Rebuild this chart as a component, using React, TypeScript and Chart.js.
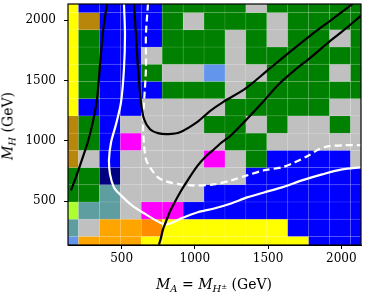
import React, { useEffect, useRef } from "react";
import { Chart, registerables } from "chart.js";
Chart.register(...registerables);

// Grid points (GeV): M_A = M_H± on x, M_H on y
const xGrid = [134, 276.9, 419.7, 562.6, 705.4, 848.3, 991.1, 1134, 1276.9, 1419.7, 1562.6, 1705.4, 1848.3, 1991.1, 2134];
const yGrid = [135, 277.9, 420.7, 563.6, 706.4, 849.3, 992.1, 1135, 1277.9, 1420.7, 1563.6, 1706.4, 1849.3, 1992.1, 2135];

// Cell classes, one string per M_H row (bottom row first), one letter per M_A column
const cellRows = [
  "COOOYYYYYYYYBBB",
  "TSOODYYYYYYBBBB",
  "LTTSMMBBBBBBBBB",
  "GGTSSSSBBBBBBBB",
  "GGNSSSSSSBBBBBB",
  "RSBSSSSMSGBBBBS",
  "RGBMSSSSGGSSSSS",
  "RGBSSSSGGSGSSGS",
  "YBBBSSSSGGGGGSS",
  "YGBBBGGGSGGGGGG",
  "YGBBGSSCSSGGGSG",
  "YGBBSGGGSGGGGGG",
  "YGBBBGGGSGSGGSG",
  "YRBBBGSGGGSGGGG",
  "YBBBBGGGGSGGGGG",
];

const palette: Record<string, string> = {
  Y: "#ffff00",
  B: "#0000ff",
  G: "#008000",
  S: "#c0c0c0",
  M: "#ff00ff",
  O: "#ffa500",
  D: "#ff8c00",
  N: "#000080",
  T: "#5f9ea0",
  L: "#adff2f",
  C: "#6495ed",
  R: "#b8860b",
};

const xTicks = [500, 1000, 1500, 2000];
const yTicks = [500, 1000, 1500, 2000];

// Contour lines (GeV)
const blackLeftX = [154, 188, 230, 271, 305, 332, 352, 373, 400];
const blackLeftY = [588, 696, 846, 996, 1163, 1346, 1621, 1905, 2138];

const blackUX = [584, 598, 612, 632, 653, 694, 748, 817, 898, 1015, 1103, 1192, 1342, 1492, 1649, 1786, 1943, 2079];
const blackUY = [2138, 1880, 1596, 1321, 1180, 1096, 1063, 1055, 1071, 1155, 1246, 1321, 1430, 1580, 1738, 1871, 2013, 2138];

const blackLowX = [755, 769, 782, 803, 830, 858, 899, 946, 1015, 1076, 1131, 1185, 1247, 1342, 1458, 1574, 1683, 1779, 1916, 2004, 2134];
const blackLowY = [138, 196, 263, 330, 413, 480, 571, 663, 788, 871, 930, 988, 1046, 1163, 1313, 1471, 1588, 1680, 1821, 1905, 2038];

const whiteX = [516, 523, 516, 496, 462, 428, 414, 421, 448, 489, 571, 666, 748, 803, 864, 905, 1015, 1131, 1247, 1356, 1472, 1595, 1731, 1868, 2004, 2134];
const whiteY = [2138, 1880, 1596, 1321, 1138, 988, 846, 721, 613, 555, 463, 388, 330, 305, 330, 355, 405, 438, 480, 530, 571, 613, 671, 721, 763, 780];

const dashX = [680, 666, 666, 653, 646, 653, 666, 694, 748, 803, 898, 980, 1131, 1247, 1356, 1472, 1595, 1683, 1779, 1847, 1916, 2025, 2134];
const dashY = [2138, 1880, 1596, 1321, 1138, 971, 846, 780, 696, 663, 638, 630, 638, 671, 713, 755, 780, 821, 880, 930, 955, 963, 963];

const pts = (xs: number[], ys: number[]) => xs.map((x, i) => ({ x, y: ys[i] }));

const edges = (g: number[], i: number) => {
  const step = g[1] - g[0];
  const lo = i > 0 ? (g[i - 1] + g[i]) / 2 : g[i] - step / 2;
  const hi = i < g.length - 1 ? (g[i] + g[i + 1]) / 2 : g[i] + step / 2;
  return [lo, hi];
};

const heatmapPlugin = {
  id: "heatmap",
  beforeDatasetsDraw(chart: any) {
    const { ctx, chartArea, scales } = chart;
    const xs = scales.x;
    const ys = scales.y;
    ctx.save();
    ctx.beginPath();
    ctx.rect(chartArea.left, chartArea.top, chartArea.right - chartArea.left, chartArea.bottom - chartArea.top);
    ctx.clip();
    cellRows.forEach((row, j) => {
      const [y0, y1] = edges(yGrid, j);
      const py0 = ys.getPixelForValue(y0);
      const py1 = ys.getPixelForValue(y1);
      row.split("").forEach((c, i) => {
        const [x0, x1] = edges(xGrid, i);
        const px0 = xs.getPixelForValue(x0);
        const px1 = xs.getPixelForValue(x1);
        ctx.fillStyle = palette[c];
        ctx.fillRect(px0, py1, px1 - px0, py0 - py1);
      });
    });
    ctx.strokeStyle = "rgba(255,255,255,0.08)";
    ctx.lineWidth = 0.8;
    cellRows.forEach((row, j) => {
      const [y0, y1] = edges(yGrid, j);
      const py0 = ys.getPixelForValue(y0);
      const py1 = ys.getPixelForValue(y1);
      row.split("").forEach((c, i) => {
        const [x0, x1] = edges(xGrid, i);
        const px0 = xs.getPixelForValue(x0);
        const px1 = xs.getPixelForValue(x1);
        ctx.strokeRect(px0, py1, px1 - px0, py0 - py1);
      });
    });
    ctx.restore();
  },
  afterDraw(chart: any) {
    const { ctx, chartArea } = chart;
    ctx.save();
    ctx.strokeStyle = "#000";
    ctx.lineWidth = 1.2;
    ctx.strokeRect(chartArea.left, chartArea.top, chartArea.right - chartArea.left, chartArea.bottom - chartArea.top);
    ctx.restore();
  },
};

const lineDs = (label: string, data: any[], color: string, dash: number[] = []) => ({
  label,
  data,
  showLine: true,
  borderColor: color,
  borderWidth: 2.2,
  borderDash: dash,
  pointRadius: 0,
  tension: 0.3,
  fill: false,
});

export default function App() {
  const ref = useRef<HTMLCanvasElement>(null);
  useEffect(() => {
    if (!ref.current) return;
    const font = { family: "'DejaVu Serif', serif", size: 12 };
    const chart = new Chart(ref.current, {
      type: "scatter",
      data: {
        datasets: [
          lineDs("black-left", pts(blackLeftX, blackLeftY), "#000"),
          lineDs("black-u", pts(blackUX, blackUY), "#000"),
          lineDs("black-low", pts(blackLowX, blackLowY), "#000"),
          lineDs("white", pts(whiteX, whiteY), "#fff"),
          lineDs("white-dashed", pts(dashX, dashY), "#fff", [7, 4]),
        ],
      },
      options: {
        animation: false,
        responsive: false,
        maintainAspectRatio: false,
        layout: { padding: { left: 0, right: 5, top: 4, bottom: 0 } },
        plugins: { legend: { display: false }, tooltip: { enabled: false } },
        scales: {
          x: {
            type: "linear",
            min: xGrid[0],
            max: xGrid[xGrid.length - 1],
            afterBuildTicks: (s: any) => {
              s.ticks = xTicks.map((v) => ({ value: v }));
            },
            afterFit: (s: any) => {
              s.height = 51;
              s.paddingLeft = 0;
              s.paddingRight = 0;
            },
            ticks: { color: "#000", font, padding: 3, maxRotation: 0, callback: (v: any) => String(v) },
            grid: { display: true, drawOnChartArea: false, drawTicks: true, tickLength: 4, color: "#000" },
            border: { display: true, color: "#000" },
          },
          y: {
            type: "linear",
            min: yGrid[0],
            max: yGrid[yGrid.length - 1],
            afterBuildTicks: (s: any) => {
              s.ticks = yTicks.map((v) => ({ value: v }));
            },
            afterFit: (s: any) => {
              s.width = 68;
              s.paddingTop = 0;
              s.paddingBottom = 0;
            },
            ticks: { color: "#000", font, padding: 8, callback: (v: any) => String(v) },
            grid: { display: true, drawOnChartArea: false, drawTicks: true, tickLength: 4, color: "#000" },
            border: { display: true, color: "#000" },
          },
        },
      },
      plugins: [heatmapPlugin],
    });
    return () => chart.destroy();
  }, []);

  const titleFont: React.CSSProperties = {
    fontFamily: "'DejaVu Serif', serif",
    fontSize: "14px",
    color: "#000",
    whiteSpace: "nowrap",
    position: "absolute",
    lineHeight: "1",
  };
  const sub: React.CSSProperties = { fontSize: "10px", verticalAlign: "-3px", fontStyle: "italic" };

  return (
    <div style={{ position: "absolute", left: 0, top: 0, width: 366, height: 296, background: "#fff" }}>
      <canvas ref={ref} width={366} height={296} style={{ width: 366, height: 296, display: "block" }} />
      <div style={{ ...titleFont, left: 214, top: 277, transform: "translateX(-50%)" }}>
        <i>M</i>
        <span style={sub}>A</span> = <i>M</i>
        <span style={sub}>
          H<span style={{ fontSize: "7px", verticalAlign: "3px", fontStyle: "normal" }}>±</span>
        </span>{" "}
        (GeV)
      </div>
      <div
        style={{
          ...titleFont,
          left: 9,
          top: 126,
          transform: "translate(-50%, -50%) rotate(-90deg)",
        }}
      >
        <i>M</i>
        <span style={sub}>H</span> (GeV)
      </div>
    </div>
  );
}
